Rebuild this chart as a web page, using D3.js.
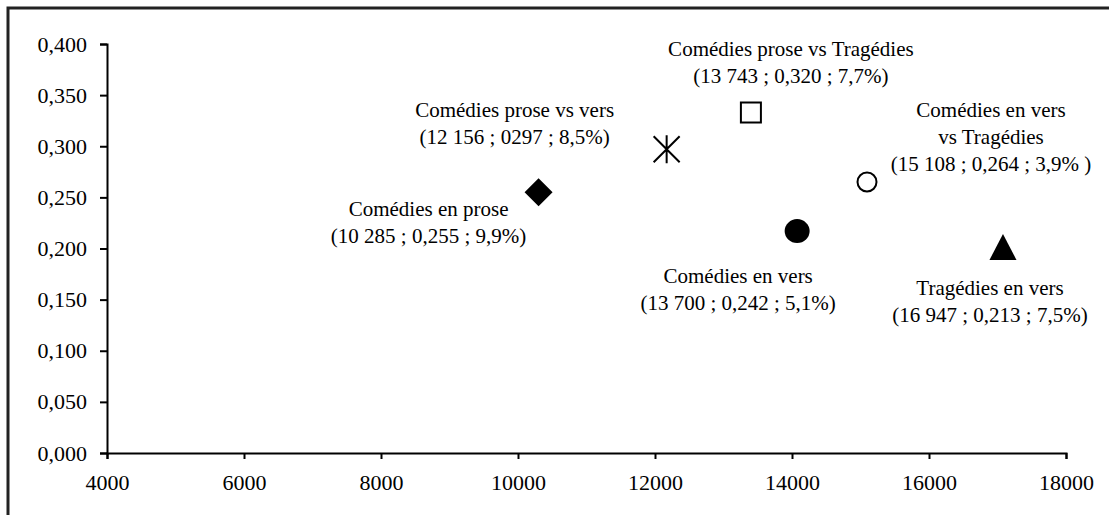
<!DOCTYPE html>
<html>
<head>
<meta charset="utf-8">
<script src="https://cdn.jsdelivr.net/npm/d3@7"></script>
<style>
  html, body { margin: 0; padding: 0; background: #fff; }
  svg { display: block; }
  .axis path, .axis line { stroke: #000; stroke-width: 2px; }
  .axis text { font-family: 'Liberation Serif', 'Times New Roman', serif; font-size: 22px; fill: #000; }
  .label { font-family: 'Liberation Serif', 'Times New Roman', serif; font-size: 21px; fill: #000; }
</style>
</head>
<body>
<div id="chart"></div>
<script>
// Values (marker positions).
const categories = [
  'Comédies en prose',
  'Comédies prose vs vers',
  'Comédies prose vs Tragédies',
  'Comédies en vers vs Tragédies',
  'Comédies en vers',
  'Tragédies en vers',
];
const xValues = [10300, 12170, 13400, 15095, 14075, 17080];
const yValues = [0.255, 0.297, 0.333, 0.265, 0.217, 0.2015];

// The annotation text shown next to each marker.
const labelLines = [
  ['Comédies en prose', '(10 285 ; 0,255 ; 9,9%)'],
  ['Comédies prose vs vers', '(12 156 ; 0297 ; 8,5%)'],
  ['Comédies prose vs Tragédies', '(13 743 ; 0,320 ; 7,7%)'],
  ['Comédies en vers', 'vs Tragédies', '(15 108 ; 0,264 ; 3,9% )'],
  ['Comédies en vers', '(13 700 ; 0,242 ; 5,1%)'],
  ['Tragédies en vers', '(16 947 ; 0,213 ; 7,5%)'],
];

const xTicks = [4000, 6000, 8000, 10000, 12000, 14000, 16000, 18000];
const yTicks = [0, 0.05, 0.1, 0.15, 0.2, 0.25, 0.3, 0.35, 0.4];

// Marker style and label offsets per category (relative to the marker).
const styles = {
  'Comédies en prose': { shape: 'diamond', dx: -110, dy: 24 },
  'Comédies prose vs vers': { shape: 'star', dx: -152, dy: -32 },
  'Comédies prose vs Tragédies': { shape: 'square', dx: 40, dy: -57 },
  'Comédies en vers vs Tragédies': { shape: 'ring', dx: 124, dy: -65 },
  'Comédies en vers': { shape: 'dot', dx: -59, dy: 52 },
  'Tragédies en vers': { shape: 'triangle', dx: -13, dy: 48 },
};

const width = 1109;
const height = 515;
const margin = {
  top: 44, right: 43, bottom: 62, left: 107,
};
const lineHeight = 27;

const svg = d3.select('#chart')
  .append('svg')
  .attr('width', width)
  .attr('height', height);

// Outer frame: only the top and left edges are visible in the picture.
svg.append('path')
  .attr('d', `M8,${height + 5}V8H${width + 5}`)
  .attr('fill', 'none')
  .attr('stroke', '#222')
  .attr('stroke-width', 3);

const x = d3.scaleLinear()
  .domain([4000, 18000])
  .range([margin.left, width - margin.right]);

const y = d3.scaleLinear()
  .domain([0, 0.4])
  .range([height - margin.bottom, margin.top]);

const frLocale = d3.formatLocale({
  decimal: ',', thousands: ' ', grouping: [3], currency: ['', ''],
});

// Axes
svg.append('g')
  .attr('class', 'axis')
  .attr('transform', `translate(0,${y(0)})`)
  .call(d3.axisBottom(x).tickValues(xTicks).tickFormat(d3.format('d')).tickSizeOuter(0).tickSize(6).tickPadding(15));

svg.append('g')
  .attr('class', 'axis')
  .attr('transform', `translate(${x(4000)},0)`)
  .call(d3.axisLeft(y).tickValues(yTicks).tickFormat(frLocale.format('.3f')).tickSizeOuter(0).tickSize(7).tickPadding(13));

// Marker shapes
const drawMarker = (g, shape) => {
  switch (shape) {
    case 'diamond':
      g.append('path').attr('d', 'M0,-14L14,0L0,14L-14,0Z').attr('fill', '#000');
      break;
    case 'star':
      g.append('path')
        .attr('d', 'M-13,-13L13,13M-13,13L13,-13M0,-14V14')
        .attr('stroke', '#000')
        .attr('stroke-width', 2)
        .attr('fill', 'none');
      break;
    case 'square':
      g.append('rect')
        .attr('x', -10).attr('y', -10)
        .attr('width', 20).attr('height', 20)
        .attr('fill', '#fff')
        .attr('stroke', '#000')
        .attr('stroke-width', 2);
      break;
    case 'ring':
      g.append('circle').attr('r', 9.5).attr('fill', '#fff').attr('stroke', '#000').attr('stroke-width', 2);
      break;
    case 'dot':
      g.append('ellipse').attr('rx', 12.5).attr('ry', 12).attr('fill', '#000');
      break;
    case 'triangle':
      g.append('path').attr('d', 'M0,-13L13.5,13L-13.5,13Z').attr('fill', '#000');
      break;
    default:
      break;
  }
};

const points = svg.append('g')
  .selectAll('g')
  .data(categories)
  .join('g')
  .attr('transform', (d, i) => `translate(${x(xValues[i])},${y(yValues[i])})`);

points.each(function (d) {
  drawMarker(d3.select(this), styles[d].shape);
});

// Labels
points.append('text')
  .attr('class', 'label')
  .attr('text-anchor', 'middle')
  .selectAll('tspan')
  .data((d, i) => labelLines[i].map((line, j) => ({ line, j, cat: d })))
  .join('tspan')
  .attr('x', (d) => styles[d.cat].dx)
  .attr('y', (d) => styles[d.cat].dy + d.j * lineHeight)
  .text((d) => d.line);
</script>
</body>
</html>
